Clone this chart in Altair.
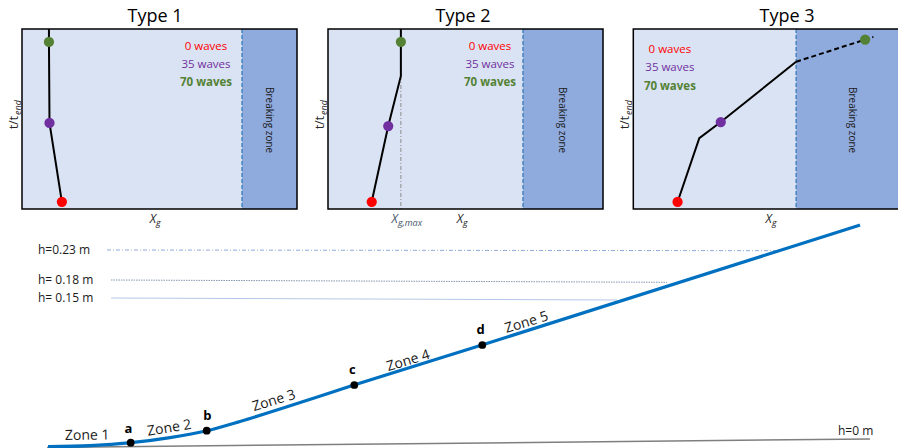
import altair as alt
import pandas as pd

W, H = 898, 448
FONT = "Open Sans"

# ---------------- top panels: frames on the canvas ----------------
panel_titles = ["Type 1", "Type 2", "Type 3"]
panel_left = [22, 328, 633.3]
panel_top = [29, 29, 29]
panel_width = [275, 275, 275]
panel_height = [180, 180, 180]
break_start = [0.80, 0.709, 0.592]   # x_g fraction where the breaking zone begins

# trajectories in panel units (x_g fraction, t/t_end)
traj_solid_x = [[0.098, 0.098, 0.100, 0.145],
                [0.265, 0.265, 0.219, 0.159],
                [0.161, 0.240, 0.318, 0.592]]
traj_solid_t = [[1.0, 0.928, 0.478, 0.04],
                [1.0, 0.739, 0.461, 0.04],
                [0.039, 0.394, 0.483, 0.818]]
traj_dash_x = [0.592, 0.873]
traj_dash_t = [0.818, 0.956]

# dots: 0, 35 and 70 waves
wave_labels = ["0 waves", "35 waves", "70 waves"]
wave_colors = ["#ff0000", "#7030a0", "#548235"]
wave_weights = ["normal", "normal", "bold"]
dot_x = [[0.145, 0.100, 0.098], [0.159, 0.219, 0.265], [0.161, 0.318, 0.843]]
dot_t = [[0.04, 0.478, 0.928], [0.04, 0.461, 0.929], [0.039, 0.483, 0.941]]

legend_x = [0.669, 0.589, 0.133]
legend_t = [[0.90, 0.80, 0.70], [0.90, 0.80, 0.70], [0.885, 0.785, 0.68]]
breaking_label_x = [0.898, 0.851, 0.795]
title_x = [0.484, 0.491, 0.559]
xg_label_x = [0.487, 0.491, 0.504]

xg_max = 0.265
xg_max_t = 0.739

# ---------------- lower diagram: flume profile ----------------
profile_x = [48, 90, 131, 170, 207, 240, 280, 354, 482, 860]
profile_y = [446.7, 445.7, 442.7, 437.6, 430.7, 421.5, 409, 385, 345, 225]

point_names = ["a", "b", "c", "d"]
point_x = [130.7, 206.7, 354.3, 482.3]
point_y = [442.7, 430.7, 385.0, 345.0]
point_label_x = [128.3, 207.3, 352.3, 480.7]
point_label_y = [429.3, 415.7, 370.0, 330.0]

zone_names = ["Zone 1", "Zone 2", "Zone 3", "Zone 4", "Zone 5"]
zone_x = [87.3, 169.3, 274.0, 408.3, 526.7]
zone_y = [435.7, 428.3, 401.0, 361.0, 322.7]
zone_angle = [359, 351, 343, 343, 343]

level_labels = ["h=0.23 m", "h= 0.18 m", "h= 0.15 m"]
level_label_y = [250, 280, 297.7]
level_x0 = [107, 111, 111]
level_x1 = [780, 667, 617]
level_y0 = [250, 280, 298]
level_y1 = [250.7, 282.3, 300]
level_colors = ["#8faadc", "#8497b0", "#b4c7e7"]
level_dash = [[4, 2, 1, 2], [1.5, 1], [1, 0]]

bed_x = [47, 870]
bed_y = [447.5, 439]

# ---------------- helpers ----------------
X = alt.X("x:Q", scale=alt.Scale(domain=[0, W], nice=False, zero=False), axis=None)
Y = alt.Y("y:Q", scale=alt.Scale(domain=[0, H], nice=False, zero=False, reverse=True), axis=None)


def px(p, f):
    return panel_left[p] + f * panel_width[p]


def py(p, t):
    return panel_top[p] + (1 - t) * panel_height[p]


def text_layer(df, size, weight="normal", style="normal", align="center", baseline="middle", angle=None):
    kw = dict(font=FONT, fontSize=size, fontWeight=weight, fontStyle=style,
              align=align, baseline=baseline)
    enc = dict(x=X, y=Y, text="text:N", color=alt.Color("color:N", scale=None))
    if angle is not None:
        kw["angle"] = angle
    if "angle" in df.columns:
        enc["angle"] = alt.Angle("angle:Q", scale=None)
    return alt.Chart(df).mark_text(**kw).encode(**enc)


layers = []

# panel backgrounds and breaking zones
rects = []
for p in range(3):
    x0, x1 = px(p, 0), px(p, 1)
    xb = px(p, break_start[p])
    y0, y1 = py(p, 1), py(p, 0)
    rects.append(dict(x=x0, x2=xb, y=y0, y2=y1, color="#dae3f3"))
    rects.append(dict(x=xb, x2=x1, y=y0, y2=y1, color="#8faadc"))
rect_df = pd.DataFrame(rects)
layers.append(alt.Chart(rect_df).mark_rect().encode(
    x=X, x2="x2:Q", y=Y, y2="y2:Q", color=alt.Color("color:N", scale=None)))

# breaking zone boundaries
bounds = pd.DataFrame([dict(x=px(p, break_start[p]), y=py(p, 1), y2=py(p, 0)) for p in range(3)])
layers.append(alt.Chart(bounds).mark_rule(color="#2e75b6", strokeWidth=1.2, strokeDash=[4, 2]).encode(
    x=X, y=Y, y2="y2:Q"))

# x_g,max marker in Type 2
xgm = pd.DataFrame([dict(x=px(1, xg_max), y=py(1, xg_max_t), y2=py(1, 0))])
layers.append(alt.Chart(xgm).mark_rule(color="#8c8c8c", strokeWidth=1, strokeDash=[4, 2, 1, 2]).encode(
    x=X, y=Y, y2="y2:Q"))

# panel frames
frames = pd.DataFrame([dict(x=px(p, 0), x2=px(p, 1), y=py(p, 1), y2=py(p, 0)) for p in range(3)])
layers.append(alt.Chart(frames).mark_rect(fillOpacity=0, stroke="black", strokeWidth=1.5).encode(
    x=X, x2="x2:Q", y=Y, y2="y2:Q"))

# trajectories
rows = []
for p in range(3):
    for i, (fx, t) in enumerate(zip(traj_solid_x[p], traj_solid_t[p])):
        rows.append(dict(g=p, i=i, x=px(p, fx), y=py(p, t)))
traj_df = pd.DataFrame(rows)
layers.append(alt.Chart(traj_df).mark_line(color="black", strokeWidth=2).encode(
    x=X, y=Y, detail="g:N", order="i:Q"))

dash_df = pd.DataFrame([dict(i=i, x=px(2, fx), y=py(2, t))
                        for i, (fx, t) in enumerate(zip(traj_dash_x, traj_dash_t))])
layers.append(alt.Chart(dash_df).mark_line(color="black", strokeWidth=2, strokeDash=[5, 3]).encode(
    x=X, y=Y, order="i:Q"))

# wave-count dots
dots = []
for p in range(3):
    for k in range(3):
        dots.append(dict(x=px(p, dot_x[p][k]), y=py(p, dot_t[p][k]), color=wave_colors[k]))
layers.append(alt.Chart(pd.DataFrame(dots)).mark_circle(size=105, opacity=1).encode(
    x=X, y=Y, color=alt.Color("color:N", scale=None)))

# legend texts
for k in range(3):
    leg = pd.DataFrame([dict(x=px(p, legend_x[p]), y=py(p, legend_t[p][k]),
                             text=wave_labels[k], color=wave_colors[k]) for p in range(3)])
    layers.append(text_layer(leg, 11.5, weight=wave_weights[k]))

# breaking zone labels
bz = pd.DataFrame([dict(x=px(p, breaking_label_x[p]), y=py(p, 0.494),
                        text="Breaking zone", color="#1a1a1a") for p in range(3)])
layers.append(text_layer(bz, 10, angle=90))

# titles
titles = pd.DataFrame([dict(x=px(p, title_x[p]), y=17, text=panel_titles[p], color="black")
                       for p in range(3)])
layers.append(text_layer(titles, 18))

# axis labels X_g
xg_main = pd.DataFrame([dict(x=px(p, xg_label_x[p]), y=219, text="X", color="#262626") for p in range(3)])
xg_sub = pd.DataFrame([dict(x=px(p, xg_label_x[p]), y=223, text="g", color="#262626") for p in range(3)])
layers.append(text_layer(xg_main, 12, style="italic", align="right"))
layers.append(text_layer(xg_sub, 9, style="italic", align="left"))

# X_g,max label
xgm_main = pd.DataFrame([dict(x=px(1, xg_max) - 3, y=219, text="X", color="#44546a")])
xgm_sub = pd.DataFrame([dict(x=px(1, xg_max) - 3, y=223, text="g,max", color="#44546a")])
layers.append(text_layer(xgm_main, 12, style="italic", align="right"))
layers.append(text_layer(xgm_sub, 9, style="italic", align="left"))

# axis labels t/t_end
tt_main = pd.DataFrame([dict(x=panel_left[p] - 8, y=116, text="t/t", color="#262626") for p in range(3)])
tt_sub = pd.DataFrame([dict(x=panel_left[p] - 4, y=115, text="end", color="#262626") for p in range(3)])
layers.append(text_layer(tt_main, 12, align="right", angle=270))
layers.append(text_layer(tt_sub, 9, style="italic", align="left", angle=270))

# ---------------- lower diagram ----------------
bed_df = pd.DataFrame(dict(x=bed_x, y=bed_y, i=[0, 1]))
layers.append(alt.Chart(bed_df).mark_line(color="#7f7f7f", strokeWidth=1.5).encode(x=X, y=Y, order="i:Q"))

for k in range(3):
    lv = pd.DataFrame(dict(x=[level_x0[k], level_x1[k]], y=[level_y0[k], level_y1[k]], i=[0, 1]))
    layers.append(alt.Chart(lv).mark_line(color=level_colors[k], strokeWidth=1,
                                          strokeDash=level_dash[k]).encode(x=X, y=Y, order="i:Q"))

lvl_txt = pd.DataFrame(dict(x=[38] * 3, y=level_label_y, text=level_labels, color=["#1a1a1a"] * 3))
layers.append(text_layer(lvl_txt, 12, align="left"))
layers.append(text_layer(pd.DataFrame([dict(x=838, y=431, text="h=0 m", color="#1a1a1a")]), 12, align="left"))

prof_df = pd.DataFrame(dict(x=profile_x, y=profile_y, i=range(len(profile_x))))
layers.append(alt.Chart(prof_df).mark_line(color="#0070c0", strokeWidth=3.2, interpolate="monotone").encode(
    x=X, y=Y, order="i:Q"))

pts = pd.DataFrame(dict(x=point_x, y=point_y))
layers.append(alt.Chart(pts).mark_circle(size=60, color="black", opacity=1).encode(x=X, y=Y))

pt_lbl = pd.DataFrame(dict(x=point_label_x, y=point_label_y, text=point_names, color=["black"] * 4))
layers.append(text_layer(pt_lbl, 13, weight="bold"))

zones = pd.DataFrame(dict(x=zone_x, y=zone_y, text=zone_names, angle=zone_angle, color=["#1a1a1a"] * 5))
layers.append(text_layer(zones, 14))

chart = alt.layer(*layers).properties(
    width=W, height=H, padding=0, autosize="none", background="white"
).configure_view(strokeWidth=0)

chart.save("out.html", embed_options={"renderer": "svg", "actions": False})
